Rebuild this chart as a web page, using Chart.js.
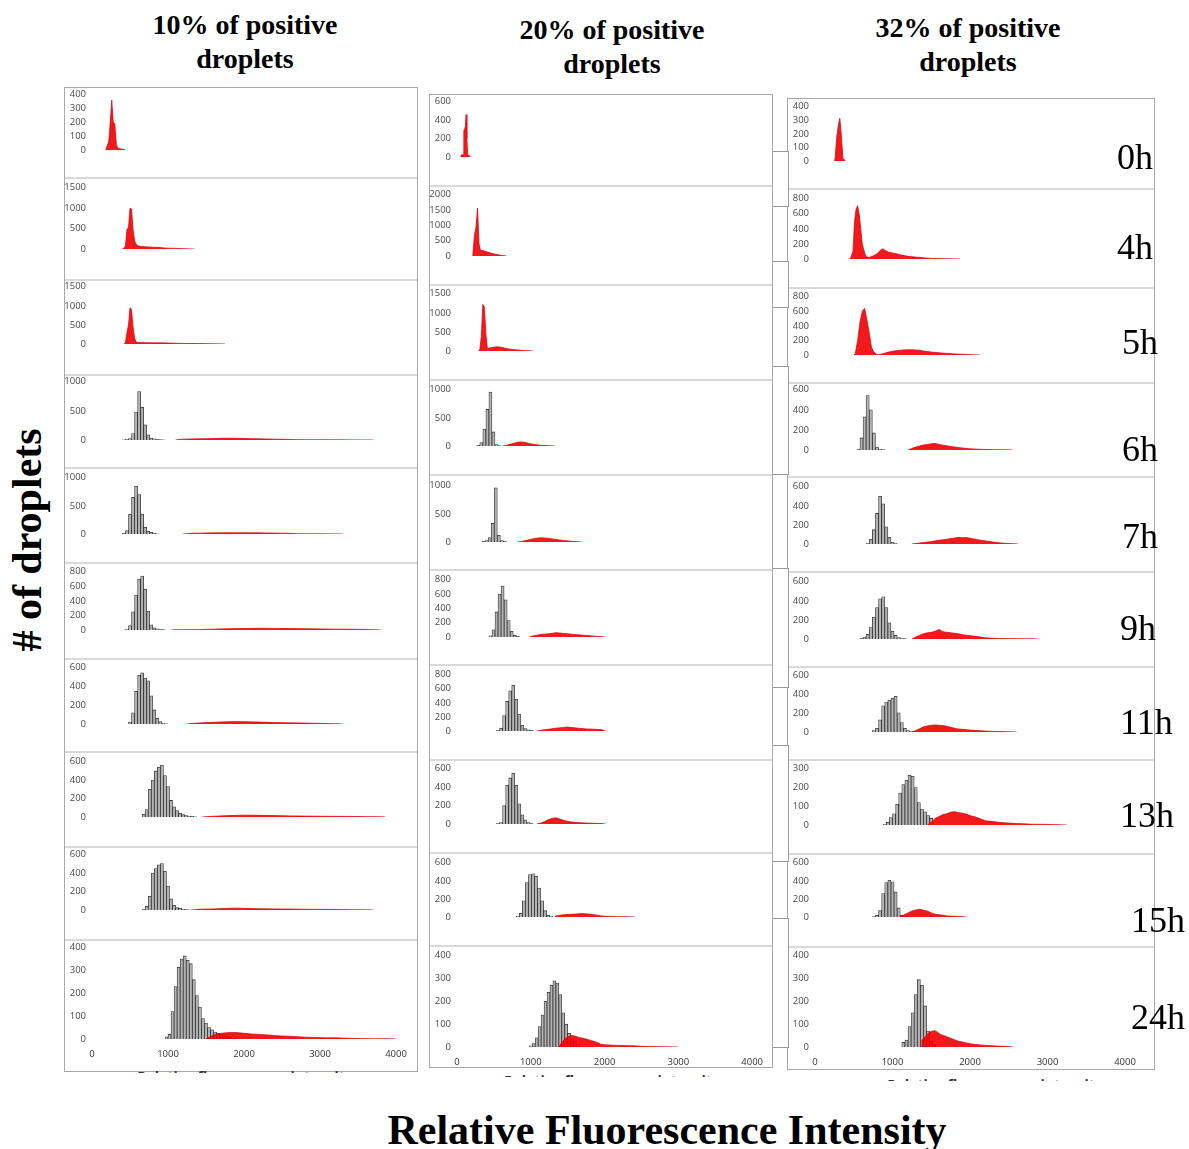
<!DOCTYPE html>
<html>
<head>
<meta charset="utf-8">
<script src="https://cdn.jsdelivr.net/npm/chart.js@4.4.0/dist/chart.umd.min.js"></script>
<style>
  body { margin:0; background:#fff; width:1189px; height:1149px; position:relative; overflow:hidden; }
  .abs { position:absolute; }
  .title { font-family:'Liberation Serif','DejaVu Serif',serif; font-weight:bold; font-size:28px; line-height:34px; text-align:center; color:#000; white-space:nowrap; }
  .hour { font-family:'Liberation Serif','DejaVu Serif',serif; font-size:36px; line-height:36px; color:#000; white-space:nowrap; }
  .big { font-family:'Liberation Serif','DejaVu Serif',serif; font-weight:bold; font-size:42px; line-height:44px; color:#000; white-space:nowrap; }
  .box { border:1px solid #a8a8a8; box-sizing:border-box; }
  .sep { background:#d9d9d9; height:2px; }
  .clip { overflow:hidden; }
  .clip span { display:block; font-family:'Open Sans',sans-serif; font-weight:bold; font-size:14px; color:#333; text-align:center; white-space:nowrap; }
  .brk { border:1px solid #9a9a9a; background:#fff; box-sizing:border-box; }
</style>
</head>
<body>
<script>
// ---------------- DATA ----------------
const columnTitles = ['10% of positive', '20% of positive', '32% of positive'];
const hours = ['0h','4h','5h','6h','7h','9h','11h','13h','15h','24h'];
const xTicks = [0, 1000, 2000, 3000, 4000];
const xAxisTitle = 'Relative Fluorescence Intensity';
const yAxisTitle = '# of droplets';
const smallXTitle = 'Relative fluorescence intensity';

const yMax10  = [400, 1500, 1500, 1000, 1000, 800, 600, 600, 600, 400];
const yStep10 = [100,  500,  500,  500,  500, 200, 200, 200, 200, 100];
const yMax20  = [600, 2000, 1500, 1000, 1000, 800, 800, 600, 600, 400];
const yStep20 = [200,  500,  500,  500,  500, 200, 200, 200, 200, 100];
const yMax32  = [400,  800,  800,  600,  600, 600, 600, 300, 600, 400];
const yStep32 = [100,  200,  200,  200,  200, 200, 200, 100, 200, 100];

// gray (negative droplet) histograms: [first bin centre, counts per 40-unit bin]
const GRAY_BIN = 40;
const neg10 = [null, null, null,
  [420, [5,15,25,110,480,830,560,260,90,35,20,12,8,4]],
  [420, [10,60,350,650,846,700,350,120,50,30,15,5]],
  [460, [10,60,250,480,700,740,560,260,70,30,15,10,5]],
  [500, [20,120,350,520,545,490,460,300,150,60,25,10,3]],
  [680, [30,80,300,400,500,540,560,450,330,180,110,70,40,25,15,10,6,3]],
  [680, [10,40,150,400,450,490,505,420,260,120,50,25,18,10,5,2]],
  [980, [10,20,120,230,314,350,364,345,330,260,190,140,90,70,50,40,30,25,20,15,10,8,5]]
];
const neg20 = [null, null, null,
  [280, [10,60,300,650,958,250,25,8]],
  [350, [10,25,80,330,963,120,25,10]],
  [440, [15,100,350,600,710,520,230,80,25,8]],
  [540, [10,40,220,420,570,650,450,240,80,35,15,8]],
  [540, [8,15,200,420,500,550,420,220,100,45,15,8]],
  [800, [10,40,180,380,470,477,450,320,180,70,20,8]],
  [1000,[5,15,40,90,140,200,240,270,290,280,230,150,100,60,35,25,12]]
];
const neg32 = [null, null, null,
  [560, [10,120,330,542,400,170,30,10,3]],
  [680, [8,50,150,320,500,420,180,70,20,8]],
  [600, [8,20,50,120,230,330,420,442,330,170,80,40,15,10,5]],
  [760, [15,40,130,280,320,340,360,380,205,100,40,15,5]],
  [900, [5,15,40,60,110,170,215,240,265,260,200,120,85,70,50,35]],
  [760, [5,20,70,260,380,405,390,277,100,20,5]],
  [1140,[20,30,90,150,230,295,270,180,70,25,8]]
];

// red (positive droplet) histograms: [intensity, count]
const pos10 = [
  [[180,0],[200,30],[220,60],[240,200],[260,360],[280,200],[300,190],[320,40],[340,15],[360,10],[380,8],[400,5],[420,3],[440,0]],
  [[400,0],[420,20],[440,80],[460,480],[480,520],[500,1000],[520,980],[540,480],[560,200],[580,120],[600,80],[650,60],[700,55],[750,50],[800,45],[850,40],[900,35],[950,25],[1000,20],[1100,15],[1200,8],[1300,3],[1350,0]],
  [[420,0],[440,40],[460,300],[480,500],[500,950],[520,900],[540,450],[560,150],[580,60],[600,40],[700,35],[800,30],[900,30],[1000,25],[1100,20],[1200,15],[1400,10],[1600,5],[1750,0]],
  [[1100,0],[1150,10],[1200,15],[1300,18],[1400,20],[1500,22],[1600,25],[1700,28],[1800,30],[1900,28],[2000,25],[2100,22],[2200,20],[2300,18],[2400,15],[2500,12],[2600,10],[2700,6],[2800,5],[2900,4],[3000,4],[3200,3],[3400,2],[3600,1],[3700,0]],
  [[1200,0],[1250,5],[1300,12],[1400,15],[1500,18],[1600,20],[1700,22],[1800,22],[1900,22],[2000,22],[2100,20],[2200,20],[2300,18],[2400,16],[2500,14],[2600,12],[2700,4],[2800,3],[3000,3],[3200,2],[3300,0]],
  [[1050,0],[1100,3],[1200,4],[1400,5],[1600,12],[1800,18],[2000,20],[2200,24],[2400,22],[2600,20],[2800,18],[3000,15],[3200,12],[3400,10],[3600,6],[3800,0]],
  [[1250,0],[1300,5],[1400,10],[1600,18],[1800,25],[2000,25],[2200,20],[2400,15],[2600,12],[2800,10],[3000,6],[3200,3],[3300,0]],
  [[1450,0],[1500,3],[1600,8],[1800,15],[2000,20],[2200,18],[2400,15],[2600,12],[2800,10],[3000,8],[3200,7],[3400,6],[3600,4],[3800,2],[3860,0]],
  [[1300,0],[1350,3],[1400,8],[1600,12],[1800,18],[1900,20],[2000,18],[2200,14],[2400,12],[2600,10],[2800,8],[3000,6],[3200,5],[3400,3],[3600,2],[3700,0]],
  [[1500,0],[1550,10],[1600,18],[1700,25],[1800,28],[1900,28],[2000,25],[2100,22],[2200,20],[2300,18],[2400,15],[2500,13],[2600,12],[2700,10],[2800,8],[2900,7],[3000,6],[3100,5],[3200,5],[3300,4],[3400,3],[3500,2],[3700,1],[3900,1],[4000,0]]
];
const pos20 = [
  [[50,0],[60,25],[80,25],[90,290],[100,300],[110,330],[120,460],[130,200],[140,25],[160,15],[180,0]],
  [[200,0],[210,80],[230,700],[250,950],[270,1563],[290,400],[310,180],[350,170],[400,130],[450,90],[500,60],[550,35],[600,15],[650,0]],
  [[280,0],[300,30],[320,375],[340,1219],[360,1150],[380,440],[400,60],[430,80],[480,100],[530,110],[580,100],[630,75],[680,55],[730,40],[800,25],[900,10],[1000,0]],
  [[600,0],[650,10],[700,30],[750,50],[800,65],[850,72],[900,60],[950,45],[1000,30],[1050,20],[1100,12],[1200,6],[1290,0]],
  [[800,0],[850,10],[900,25],[950,40],[1000,55],[1050,68],[1100,75],[1150,72],[1200,65],[1250,55],[1300,45],[1350,35],[1400,28],[1450,20],[1500,12],[1550,8],[1640,0]],
  [[950,0],[1000,15],[1050,25],[1100,35],[1150,40],[1200,45],[1250,50],[1300,60],[1350,55],[1400,50],[1450,45],[1500,40],[1550,35],[1600,30],[1650,25],[1700,22],[1750,18],[1800,12],[1850,8],[1900,5],[1950,0]],
  [[1050,0],[1100,10],[1200,25],[1300,40],[1400,50],[1450,57],[1500,50],[1550,45],[1600,38],[1700,30],[1800,25],[1900,20],[1950,0]],
  [[1050,0],[1100,10],[1150,25],[1200,45],[1250,60],[1300,68],[1350,55],[1400,40],[1450,30],[1500,22],[1600,15],[1700,10],[1800,8],[1900,5],[1950,0]],
  [[1280,0],[1300,10],[1400,25],[1500,30],[1550,32],[1600,35],[1650,38],[1700,35],[1750,30],[1800,25],[1850,20],[1900,12],[1950,8],[2000,6],[2100,4],[2200,3],[2340,0]],
  [[1380,0],[1420,20],[1460,35],[1500,45],[1550,50],[1600,48],[1650,42],[1700,38],[1750,35],[1800,30],[1850,25],[1900,20],[1950,12],[2000,10],[2100,8],[2200,7],[2300,6],[2400,5],[2500,3],[2600,2],[2800,1],[3000,0]]
];
const pos32 = [
  [[250,0],[260,20],[280,175],[300,260],[320,315],[340,190],[360,15],[380,10],[390,0]],
  [[440,0],[460,10],[490,100],[510,500],[530,660],[550,708],[570,600],[590,406],[610,200],[630,120],[650,50],[670,25],[700,20],[750,40],[800,70],[850,120],[880,137],[900,115],[950,90],[1000,80],[1050,70],[1100,55],[1150,45],[1200,35],[1300,25],[1400,15],[1500,8],[1600,5],[1700,3],[1870,0]],
  [[500,0],[520,20],[550,200],[580,450],[610,600],[640,640],[670,480],[700,300],[730,100],[760,40],[790,10],[820,5],[850,10],[900,25],[950,40],[1000,50],[1050,60],[1100,65],[1150,70],[1200,72],[1250,72],[1300,68],[1350,65],[1400,55],[1450,48],[1500,40],[1600,30],[1700,22],[1800,15],[1900,10],[2000,5],[2130,0]],
  [[1200,0],[1250,15],[1300,30],[1350,40],[1400,50],[1450,55],[1500,62],[1550,65],[1600,55],[1650,48],[1700,42],[1750,35],[1800,30],[1850,25],[1900,20],[2000,12],[2100,8],[2200,5],[2300,3],[2450,2],[2550,0]],
  [[1250,0],[1300,5],[1400,15],[1500,25],[1600,38],[1700,50],[1800,62],[1850,70],[1900,65],[1950,68],[2000,60],[2100,45],[2200,32],[2300,20],[2400,10],[2500,5],[2620,0]],
  [[1250,0],[1300,20],[1350,40],[1400,55],[1450,65],[1500,70],[1550,80],[1600,100],[1650,75],[1700,70],[1750,65],[1800,60],[1850,55],[1900,45],[1950,40],[2000,35],[2100,25],[2200,12],[2300,8],[2400,5],[2600,3],[2800,2],[2880,0]],
  [[1250,0],[1300,15],[1350,35],[1400,55],[1450,65],[1500,72],[1550,75],[1600,72],[1650,68],[1700,60],[1750,50],[1800,40],[1850,32],[1900,28],[2000,20],[2100,15],[2200,10],[2300,6],[2400,4],[2600,0]],
  [[1450,0],[1500,15],[1550,35],[1600,45],[1650,55],[1700,60],[1750,68],[1800,71],[1850,66],[1900,63],[1950,58],[2000,50],[2050,45],[2100,38],[2150,30],[2200,22],[2300,18],[2400,13],[2500,10],[2600,8],[2700,6],[2800,4],[3000,3],[3250,0]],
  [[1100,0],[1120,10],[1150,25],[1200,45],[1250,65],[1300,78],[1350,85],[1400,75],[1450,65],[1500,45],[1550,30],[1600,25],[1650,20],[1700,12],[1800,8],[1900,4],[1950,0]],
  [[1370,0],[1380,30],[1420,45],[1460,60],[1500,68],[1540,72],[1580,65],[1620,55],[1660,50],[1700,45],[1750,38],[1800,32],[1850,25],[1900,22],[1950,18],[2000,14],[2100,10],[2200,7],[2300,5],[2400,3],[2500,2],[2550,0]]
];

// ---------------- LAYOUT (pixels) ----------------
const columnsLayout = [
  { left:64,  right:418,  boxTop:87, boxBottom:1072, axisW:28, padR:22,
    tops:[93,186,285,380,476,570,666,760,853,946], zeros:[172,271,366,462,556,652,746,839,932,1039],
    seps:[177,279,374,467,562,658,751,846,939], titleX:245, titleY:8, smallY:1067, smallX:245 },
  { left:429, right:773,  boxTop:94, boxBottom:1068, axisW:28, padR:12,
    tops:[100,193,292,388,484,578,673,767,861,954], zeros:[179,278,373,468,564,659,753,846,939,1047],
    seps:[185,284,379,474,569,664,759,852,945], titleX:612, titleY:13, smallY:1071, smallX:612 },
  { left:787, right:1155, boxTop:98, boxBottom:1070, axisW:28, padR:30,
    tops:[105,197,295,388,485,580,674,767,861,954], zeros:[183,281,377,472,566,661,754,847,939,1047],
    seps:[188,287,382,476,571,666,759,853,946], titleX:968, titleY:11, smallY:1075, smallX:995 }
];
const hourPos = [[1117,157],[1117,247],[1122,342],[1122,449],[1122,536],[1120,628],[1120,722],[1120,815],[1131,920],[1131,1017]];
const brackets = [[773,151,16,56],[773,261,16,47],[773,366,16,109],[773,568,16,120],[773,745,16,117],[773,918,16,130]];

const negData = [neg10, neg20, neg32];
const posData = [pos10, pos20, pos32];
const yMaxes = [yMax10, yMax20, yMax32];
const ySteps = [yStep10, yStep20, yStep32];

function el(cls, css, html) {
  const d = document.createElement('div');
  d.className = 'abs ' + cls;
  Object.assign(d.style, css);
  if (html !== undefined) d.innerHTML = html;
  document.body.appendChild(d);
  return d;
}

Chart.defaults.font.family = "'Open Sans', 'Liberation Sans', sans-serif";
Chart.defaults.font.size = 10;
Chart.defaults.color = '#4a4a4a';

columnsLayout.forEach((col, c) => {
  el('box', { left: col.left+'px', top: col.boxTop+'px', width: (col.right-col.left)+'px', height: (col.boxBottom-col.boxTop)+'px' });
  col.seps.forEach(y => el('sep', { left: (col.left+1)+'px', top: y+'px', width: (col.right-col.left-2)+'px' }));
  el('title', { left: (col.titleX-160)+'px', top: col.titleY+'px', width: '320px' }, columnTitles[c] + '<br>droplets');
  const clip = el('clip', { left: (col.smallX-150)+'px', top: col.smallY+'px', width: '300px', height: '6px' });
  const sp = document.createElement('span'); sp.textContent = smallXTitle; clip.appendChild(sp);

  for (let r = 0; r < 10; r++) {
    const last = r === 9;
    const top = col.tops[r] - 10;
    const xAxisH = 22;
    const bottom = last ? col.zeros[r] + xAxisH + 2 : col.zeros[r] + 5;
    const canvas = document.createElement('canvas');
    canvas.width = col.right - col.left;
    canvas.height = bottom - top;
    canvas.style.position = 'absolute';
    canvas.style.left = col.left + 'px';
    canvas.style.top = top + 'px';
    document.body.appendChild(canvas);

    const datasets = [{
      type: 'line',
      data: posData[c][r].map(([x, y]) => ({ x, y })),
      fill: 'origin',
      backgroundColor: 'rgba(240,0,0,0.9)',
      borderColor: 'rgba(225,0,15,0.95)',
      borderWidth: 0.8,
      pointRadius: 0,
      tension: 0,
      order: 0
    }];
    const g = negData[c][r];
    if (g) {
      datasets.push({
        type: 'bar',
        data: g[1].map((v, i) => ({ x: g[0] + i * GRAY_BIN, y: v })),
        backgroundColor: '#b3b3b3',
        borderColor: 'rgba(25,25,25,0.85)',
        borderWidth: 0.8,
        barPercentage: 1,
        categoryPercentage: 1,
        order: 1
      });
    }

    new Chart(canvas, {
      type: 'bar',
      data: { datasets },
      options: {
        responsive: false,
        animation: false,
        layout: { padding: { top: 10, bottom: last ? 2 : 5, left: 0, right: col.padR } },
        plugins: { legend: { display: false }, tooltip: { enabled: false } },
        scales: {
          x: {
            type: 'linear', min: xTicks[0], max: xTicks[xTicks.length-1], offset: false,
            display: last,
            grid: { display: false, drawTicks: false },
            border: { display: false },
            afterBuildTicks: s => { s.ticks = xTicks.map(v => ({ value: v })); },
            afterFit: s => { s.height = xAxisH; },
            ticks: { padding: 10, color: '#333', font: { size: 9.5 }, maxRotation: 0, autoSkip: false, callback: v => String(v) }
          },
          y: {
            min: 0, max: yMaxes[c][r],
            grid: { display: false, drawTicks: false },
            border: { display: false },
            afterFit: s => { s.width = col.axisW; },
            ticks: { stepSize: ySteps[c][r], padding: 6, autoSkip: false, color: '#4a4a4a', font: { size: 9.5 }, callback: v => String(v) }
          }
        }
      }
    });
  }
});

brackets.forEach(([x, y, w, h]) => el('brk', { left: x+'px', top: y+'px', width: w+'px', height: h+'px', borderLeft: 'none' }));

hours.forEach((h, i) => el('hour', { left: hourPos[i][0]+'px', top: (hourPos[i][1]-18)+'px' }, h));

el('big', { left: '0px', top: '1108px', width: '1334px', textAlign: 'center' }, xAxisTitle);
el('big', { left: '27px', top: '540px', transform: 'translate(-50%,-50%) rotate(-90deg)' }, yAxisTitle);
</script>
</body>
</html>
